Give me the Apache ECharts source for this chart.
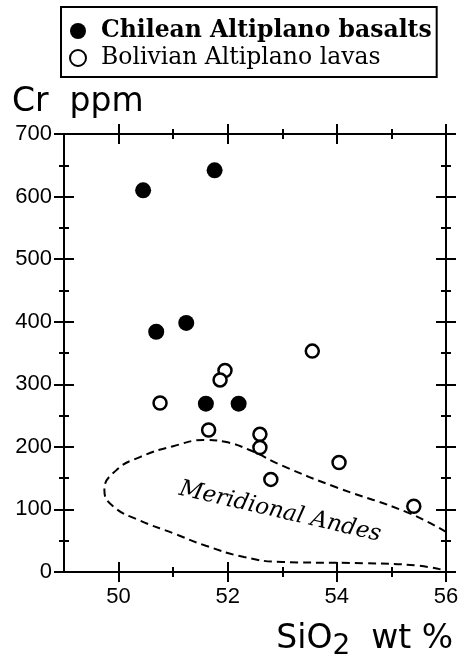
<!DOCTYPE html>
<html>
<head>
<meta charset="utf-8">
<script src="https://cdn.jsdelivr.net/npm/echarts@6/dist/echarts.min.js"></script>
<style>
    html, body { margin: 0; padding: 0; background: #fff; }
    #chart { width: 468px; height: 663px; }
</style>
</head>
<body>
<div id="chart"></div>
<script>
// values: [SiO2 wt %, Cr ppm]
const chilean = [[50.45, 610], [51.76, 642], [50.69, 384], [51.24, 398], [51.6, 269], [52.2, 269]];
const bolivian = [[50.76, 270], [51.95, 322], [51.86, 307], [53.55, 353], [51.65, 227],
    [52.59, 220], [52.59, 199], [52.79, 148], [54.04, 175], [55.41, 105]];
// outline of the Meridional Andes field, upper branch right->left, then lower branch left->right
const andesField = [[56, 64], [55.3, 95], [54, 135], [53, 170], [52.4, 195], [51.95, 208], [51.6, 211],
    [51.0, 201], [50.4, 184], [49.95, 162], [49.74, 131], [49.9, 105], [50.4, 82], [51.0, 62],
    [51.6, 42], [52.3, 24], [53, 16], [54.5, 14], [55.5, 10], [56, 2]];
const andesLabelAt = [[52.96, 96]];

const xMajor = [50, 52, 54, 56];
const xMinor = [51, 53, 55];
const yMajor = [0, 100, 200, 300, 400, 500, 600, 700];
const yMinor = [50, 150, 250, 350, 450, 550, 650];

const black = '#000';
const sans = 'DejaVu Sans';
const tickFont = 'Liberation Sans';
const serif = 'DejaVu Serif';

// ticks in the figure cross the axis line, so each side gets an outside + inside copy
function makeAxes(pos, min, max, interval, major, minor, labelMargin) {
    const list = [];
    [[major, 10], [minor, 5]].forEach(function (pair) {
        [false, true].forEach(function (inside) {
            list.push({
                type: 'value', position: pos, min: min, max: max, interval: interval,
                splitLine: {show: false},
                axisLine: {show: false, onZero: false},
                axisLabel: {show: false},
                axisTick: {show: true, inside: inside, length: pair[1], customValues: pair[0],
                    lineStyle: {color: black, width: 2}}
            });
        });
    });
    list[0].axisLine = {show: true, onZero: false, lineStyle: {color: black, width: 2}};
    if (labelMargin) {
        list[0].axisLabel = {show: true, customValues: major, color: black, fontFamily: tickFont,
            fontSize: 22, margin: labelMargin};
    }
    return list;
}

const xAxes = makeAxes('bottom', 49, 56, 1, xMajor, xMinor, 14)
    .concat(makeAxes('top', 49, 56, 1, xMajor, xMinor, 0));
const yAxes = makeAxes('left', 0, 700, 100, yMajor, yMinor, 12)
    .concat(makeAxes('right', 0, 700, 100, yMajor, yMinor, 0));

const myChart = echarts.init(document.getElementById('chart'));
myChart.setOption({
    animation: false,
    backgroundColor: '#fff',
    grid: {left: 64, right: 22, top: 134, bottom: 91},
    title: [
        {
            text: 'Cr  ppm', left: 12, top: 86, padding: 0,
            textStyle: {fontFamily: sans, fontSize: 33, fontWeight: 'normal', color: black}
        },
        {
            text: '{a|SiO}{b|2}{a|  wt %}', right: 15, top: 621, padding: 0,
            textStyle: {
                fontWeight: 'normal',
                rich: {
                    a: {fontFamily: sans, fontSize: 33, fontWeight: 'normal', color: black,
                        lineHeight: 42, verticalAlign: 'top', padding: [2, 0, 0, 0]},
                    b: {fontFamily: sans, fontSize: 28, fontWeight: 'normal', color: black,
                        lineHeight: 42, verticalAlign: 'top', padding: [12, 0, 0, 0]}
                }
            }
        }
    ],
    legend: {
        left: 61, top: 7, orient: 'vertical', selectedMode: false,
        data: [
            {name: 'Chilean Altiplano basalts', textStyle: {fontWeight: 'bold'}},
            {name: 'Bolivian Altiplano lavas'}
        ],
        borderColor: black, borderWidth: 2, borderRadius: 0,
        padding: [12, 5, 7, 8], itemGap: 3, itemWidth: 16, itemHeight: 16,
        textStyle: {fontFamily: serif, fontSize: 23.5, color: black, padding: [0, 0, 0, 10]}
    },
    xAxis: xAxes,
    yAxis: yAxes,
    series: [
        {
            name: 'Meridional Andes', type: 'line', data: andesField, smooth: 0.5,
            symbol: 'none', silent: true,
            lineStyle: {color: black, width: 2, type: [8, 5]}
        },
        {
            name: 'andes label', type: 'scatter', data: andesLabelAt, symbolSize: 0, silent: true,
            itemStyle: {opacity: 1},
            label: {
                show: true, position: 'inside', rotate: -13, formatter: 'Meridional Andes',
                fontFamily: serif, fontStyle: 'italic', fontSize: 23, color: black, opacity: 1
            }
        },
        {
            name: 'Chilean Altiplano basalts', type: 'scatter', data: chilean, z: 5,
            symbol: 'circle', symbolSize: 16, itemStyle: {color: black, opacity: 1}
        },
        {
            name: 'Bolivian Altiplano lavas', type: 'scatter', data: bolivian, z: 5,
            symbol: 'circle', symbolSize: 13,
            itemStyle: {color: '#fff', borderColor: black, borderWidth: 2.5, opacity: 1}
        }
    ]
});
</script>
</body>
</html>
